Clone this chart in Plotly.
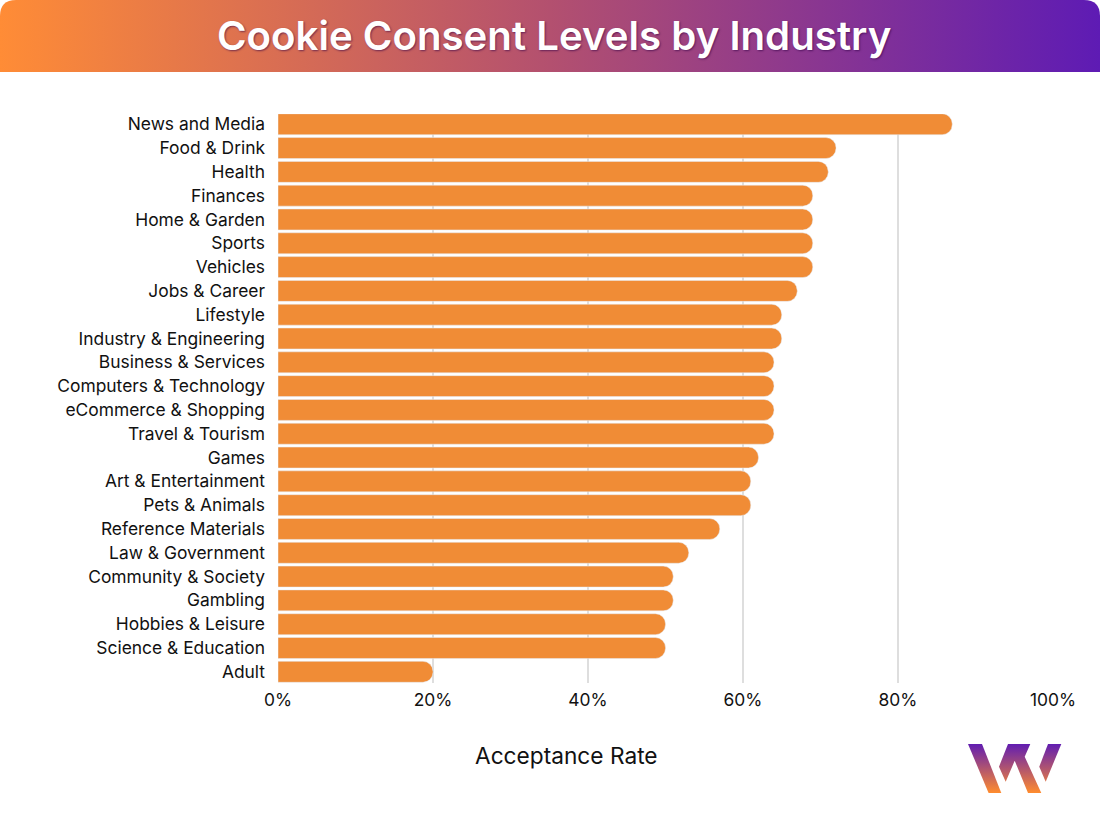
import base64
import plotly.graph_objects as go

W, H = 1100, 820
LEFT, RIGHT, TOP, BOTTOM = 278, 1053, 114, 683

industries = [
    'News and Media', 'Food & Drink', 'Health', 'Finances', 'Home & Garden', 'Sports',
    'Vehicles', 'Jobs & Career', 'Lifestyle', 'Industry & Engineering', 'Business & Services',
    'Computers & Technology', 'eCommerce & Shopping', 'Travel & Tourism', 'Games',
    'Art & Entertainment', 'Pets & Animals', 'Reference Materials', 'Law & Government',
    'Community & Society', 'Gambling', 'Hobbies & Leisure', 'Science & Education', 'Adult',
]
acceptance = [87, 72, 71, 69, 69, 69, 69, 67, 65, 65, 64, 64, 64, 64, 62, 61, 61, 57, 53, 51, 51, 50, 50, 20]
tick_values = [0, 20, 40, 60, 80, 100]
tick_labels = ['0%', '20%', '40%', '60%', '80%', '100%']


def svg_uri(svg):
    return 'data:image/svg+xml;base64,' + base64.b64encode(svg.encode()).decode()


# helpers: pixel position on the page -> paper coordinates
def px(x):
    return (x - LEFT) / (RIGHT - LEFT)


def py(y):
    return (BOTTOM - y) / (BOTTOM - TOP)


header_svg = f'''<svg xmlns="http://www.w3.org/2000/svg" width="{W}" height="72" viewBox="0 0 {W} 72">
<defs><linearGradient id="g" x1="0" x2="1" y1="0" y2="0">
<stop offset="0" stop-color="#FF8C36"/><stop offset="0.5" stop-color="#B3506F"/><stop offset="1" stop-color="#5E1BB4"/>
</linearGradient></defs>
<path d="M0 72 V16 Q0 0 16 0 H{W - 16} Q{W} 0 {W} 16 V72 Z" fill="url(#g)"/></svg>'''

logo_svg = '''<svg xmlns="http://www.w3.org/2000/svg" width="100" height="52" viewBox="0 0 100 52">
<defs><linearGradient id="l" gradientUnits="userSpaceOnUse" x1="0" x2="0" y1="0" y2="50">
<stop offset="0" stop-color="#5E1BB4"/><stop offset="1" stop-color="#FF8C2E"/>
</linearGradient></defs>
<g fill="url(#l)">
<path d="M1 1 H15 L34.3 50 H21.6 Z"/>
<path d="M41 1 H63.3 L57.7 13.7 L74.3 50 H61 L47.7 17.7 L38.7 38.7 L32 23.7 Z"/>
<path d="M81 1 H94.3 L78.7 38.7 L72.3 23.7 Z"/>
</g></svg>'''

fig = go.Figure(go.Bar(
    x=acceptance,
    y=industries,
    orientation='h',
    marker=dict(color='#F08C36', cornerradius=10),
    width=0.88,
    hovertemplate='%{y}: %{x}%<extra></extra>',
))

fig.update_layout(
    width=W,
    height=H,
    margin=dict(l=LEFT, r=W - RIGHT, t=TOP, b=H - BOTTOM, pad=0),
    paper_bgcolor='white',
    plot_bgcolor='white',
    showlegend=False,
    font=dict(family='Inter, Roboto, sans-serif', size=17.4, color='#111111'),
    images=[
        dict(source=svg_uri(header_svg), xref='paper', yref='paper', x=px(0), y=py(0),
             sizex=px(W) - px(0), sizey=py(0) - py(72), xanchor='left', yanchor='top',
             sizing='stretch', layer='below'),
        dict(source=svg_uri(logo_svg), xref='paper', yref='paper', x=px(967), y=py(743),
             sizex=px(1067) - px(967), sizey=py(743) - py(795), xanchor='left', yanchor='top',
             sizing='stretch', layer='above'),
    ],
    annotations=[
        dict(text='Cookie Consent Levels by Industry', xref='paper', yref='paper',
             x=px(554), y=py(35.5), xanchor='center', yanchor='middle', showarrow=False,
             font=dict(size=40.2, color='white', weight=600, shadow='1px 1px 2px rgba(50,0,70,0.6)')),
        dict(text='Acceptance Rate', xref='paper', yref='paper',
             x=px(566), y=py(755), xanchor='center', yanchor='middle', showarrow=False,
             font=dict(size=22.7, color='#111111')),
    ],
)

fig.update_xaxes(
    range=[0, 100],
    tickvals=tick_values,
    ticktext=tick_labels,
    showgrid=True,
    gridcolor='#DEDEDE',
    gridwidth=1.5,
    zeroline=False,
    showline=False,
    ticks='',
    ticklabelstandoff=5,
)
fig.update_yaxes(
    range=[23.47, -0.43],
    showgrid=False,
    showline=False,
    zeroline=False,
    ticks='',
    ticklabelstandoff=12,
)

fig.write_html('out.html', config={'displayModeBar': False}, post_script="document.body.style.margin='0';")
